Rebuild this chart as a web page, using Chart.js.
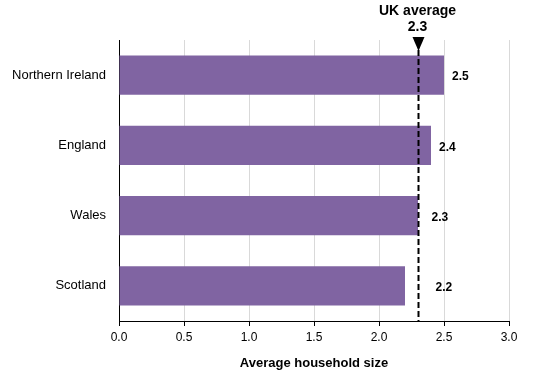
<!DOCTYPE html>
<html>
<head>
<meta charset="utf-8">
<script src="https://cdn.jsdelivr.net/npm/chart.js@4"></script>
<style>
  html, body { margin: 0; padding: 0; background: #fff; }
  #wrap { width: 534px; height: 379px; position: relative; }
</style>
</head>
<body>
<div id="wrap"><canvas id="chart"></canvas></div>
<script>
const countries = ['Northern Ireland', 'England', 'Wales', 'Scotland'];
const householdSize = [2.5, 2.4, 2.3, 2.2];
const ukAverage = 2.3;
const xTicks = [0, 0.5, 1.0, 1.5, 2.0, 2.5, 3.0];

const FONT = 'Liberation Sans, Arial, sans-serif';

// dashed UK average line with marker + bold value labels
const overlay = {
  id: 'overlay',
  afterDatasetsDraw(chart) {
    const ctx = chart.ctx;
    const x = chart.scales.x;
    const area = chart.chartArea;
    const lineX = Math.round(x.getPixelForValue(ukAverage)) + 0.5;

    ctx.save();
    // value labels
    ctx.font = 'bold 12px ' + FONT;
    ctx.fillStyle = '#000';
    ctx.textBaseline = 'middle';
    ctx.textAlign = 'left';
    const meta = chart.getDatasetMeta(0);
    meta.data.forEach((bar, i) => {
      const start = Math.max(bar.x + 8, lineX + 13 + (householdSize[i] < ukAverage ? 4 : 0));
      ctx.fillText(householdSize[i].toFixed(1), start, bar.y + 2);
    });

    // dashed line
    ctx.strokeStyle = '#000';
    ctx.lineWidth = 2;
    ctx.setLineDash([6, 3]);
    ctx.beginPath();
    ctx.moveTo(lineX, area.top + 10);
    ctx.lineTo(lineX, area.bottom);
    ctx.stroke();
    ctx.setLineDash([]);

    // triangle marker
    ctx.beginPath();
    ctx.moveTo(lineX - 6, area.top - 3);
    ctx.lineTo(lineX + 6, area.top - 3);
    ctx.lineTo(lineX, area.top + 11);
    ctx.closePath();
    ctx.fill();

    // label
    ctx.font = 'bold 14px ' + FONT;
    ctx.textAlign = 'center';
    ctx.fillText('UK average', lineX - 1, 11);
    ctx.fillText(ukAverage.toFixed(1), lineX - 1, 27);
    ctx.restore();
  }
};

new Chart(document.getElementById('chart'), {
  type: 'bar',
  data: {
    labels: countries,
    datasets: [{
      data: householdSize,
      backgroundColor: '#8064a2',
      barPercentage: 0.56,
      categoryPercentage: 1.0
    }]
  },
  options: {
    indexAxis: 'y',
    responsive: true,
    maintainAspectRatio: false,
    animation: false,
    layout: { padding: { top: 40, right: 25, left: 0, bottom: 0 } },
    plugins: {
      legend: { display: false },
      tooltip: { enabled: false }
    },
    scales: {
      x: {
        min: 0,
        max: 3,
        afterBuildTicks: (scale) => {
          scale.ticks = xTicks.map(v => ({ value: v }));
        },
        ticks: {
          color: '#000',
          font: { family: FONT, size: 12 },
          padding: 4,
          callback: (v) => Number(v).toFixed(1)
        },
        grid: {
          color: '#d9d9d9',
          tickColor: '#000',
          tickLength: 5,
          drawOnChartArea: true
        },
        border: { color: '#000', width: 1 },
        title: {
          display: true,
          text: 'Average household size',
          color: '#000',
          font: { family: FONT, size: 13, weight: 'bold' },
          padding: { top: 3, bottom: 8 }
        },
        afterFit: (scale) => { scale.height = 58; }
      },
      y: {
        ticks: {
          color: '#000',
          font: { family: FONT, size: 13 },
          padding: 5
        },
        grid: { display: false },
        border: { color: '#000', width: 1 },
        afterFit: (scale) => { scale.width = 119; }
      }
    }
  },
  plugins: [overlay]
});
</script>
</body>
</html>
